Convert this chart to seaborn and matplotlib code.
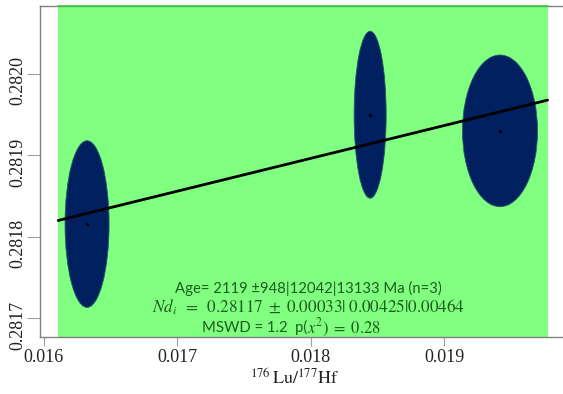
import numpy as np
import pandas as pd
import matplotlib
matplotlib.use("Agg")
import matplotlib.pyplot as plt
import matplotlib.transforms as mtransforms
from matplotlib.patches import Ellipse
import seaborn as sns

# Lu-Hf analyses: ratio means and 2-sigma ellipse half-axes
lu_hf = [0.016326, 0.018445, 0.019417]
hf_hf = [0.2818157, 0.2819500, 0.2819302]
half_x = [0.0001647, 0.0001198, 0.0002807]
half_y = [0.0001023, 0.0001025, 0.0000931]

# isochron fit (176Lu decay constant per Ma)
age_ma = 2119
decay_const = 1.867e-5
nd_initial = 0.28117
fit_range = [0.01611, 0.019773]

x_ticks = [0.016, 0.017, 0.018, 0.019]
x_tick_labels = ["0.016", "0.017", "0.018", "0.019"]
y_ticks = [0.2817, 0.2818, 0.2819, 0.2820]
y_tick_labels = ["0.2817", "0.2818", "0.2819", "0.2820"]

age_text = "Age= 2119 ±948|12042|13133 Ma (n=3)"
nd_text = r"$Nd_i\;\;=\;\;0.28117\;\pm\;0.00033|\;0.00425|0.00464$"
mswd_text = "MSWD = 1.2  p("
p_text = r"$x^2)\;=\;0.28$"
x_label = r"$^{176}\,\mathrm{Lu}/^{177}\mathrm{Hf}$"

sns.set_theme(style="white")
plt.rcParams["font.family"] = ["Lato", "DejaVu Sans"]
plt.rcParams["mathtext.fontset"] = "stix"

W, H = 563, 394
fig = plt.figure(figsize=(W / 100, H / 100), dpi=100)
ax = fig.add_axes([40 / W, (H - 336.7) / H, (W - 40) / W, (336.7 - 6) / H])

ax.set_xlim(0.0159738, 0.0198885)
ax.set_ylim(0.2816774, 0.2820835)

# fitted range shading
ax.axvspan(fit_range[0], fit_range[1], facecolor="#80ff80", lw=0, zorder=0)
ax.plot(fit_range, [0.2820835, 0.2820835], color="#3ccc3c", lw=1.2,
        clip_on=False, zorder=5)

# error ellipses
for x, y, hx, hy in zip(lu_hf, hf_hf, half_x, half_y):
    ax.add_patch(Ellipse((x, y), 2 * hx, 2 * hy, facecolor="#002060",
                         edgecolor="#1f5a6a", lw=0.6, zorder=2))

# isochron line
slope = np.exp(decay_const * age_ma) - 1
fx = np.array(fit_range)
line_df = pd.DataFrame({"x": fx, "y": nd_initial + slope * fx})
sns.lineplot(data=line_df, x="x", y="y", color="black", lw=2.0, ax=ax,
             zorder=3)

# analysis means
sns.scatterplot(x=lu_hf, y=hf_hf, color="black", s=5, linewidth=0, ax=ax,
                zorder=4)

ax.set_xlabel("")
ax.set_ylabel("")

for side in ["left", "bottom", "top"]:
    ax.spines[side].set_visible(True)
    ax.spines[side].set_color("#808080")
    ax.spines[side].set_linewidth(1.0)
ax.spines["right"].set_visible(False)

ax.set_xticks(x_ticks)
ax.set_xticklabels(x_tick_labels, family="Liberation Serif", fontsize=13)
ax.set_yticks(y_ticks)
ax.set_yticklabels(y_tick_labels, family="Liberation Serif", fontsize=13,
                   rotation=90, va="center")
ax.tick_params(axis="x", bottom=True, direction="out", length=6.5,
               width=0.8, color="#a0a0a0", pad=2, labelcolor="#222222")
ax.tick_params(axis="y", left=True, direction="out", length=9.5,
               width=0.8, color="#a0a0a0", pad=0, labelcolor="#222222")
shift = mtransforms.ScaledTranslation(0, -7 / 100, fig.dpi_scale_trans)
for lab in ax.get_yticklabels():
    lab.set_transform(lab.get_transform() + shift)

# fit summary
green_txt = "#1b5e1b"
fig.text(308 / W, 1 - 288 / H, age_text, ha="center", va="center",
         fontsize=10.7, color=green_txt)
fig.text(308 / W, 1 - 307 / H, nd_text, ha="center", va="center",
         fontsize=12.3, color=green_txt)
fig.text(307 / W, 1 - 327.5 / H, mswd_text, ha="right", va="center",
         fontsize=10.7, color=green_txt)
fig.text(307 / W, 1 - 327.5 / H, p_text, ha="left", va="center",
         fontsize=12, color=green_txt)

fig.text(295 / W, 1 - 378 / H, x_label, ha="center", va="center",
         fontsize=13, color="#222222")

fig.savefig("out.png", dpi=100)
